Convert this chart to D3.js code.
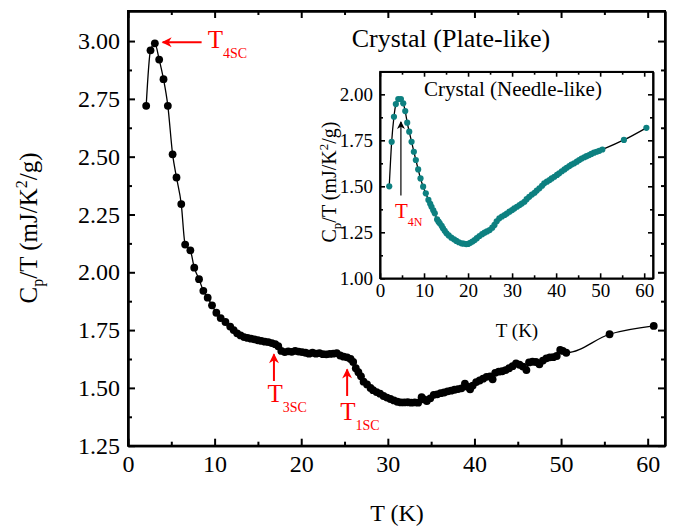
<!DOCTYPE html>
<html><head><meta charset="utf-8">
<script src="https://cdn.jsdelivr.net/npm/d3@7"></script>
<style>
html,body{margin:0;padding:0;background:#fff;}
svg{display:block;font-family:"Liberation Serif","Times New Roman",serif;}
</style></head><body>
<script>
// ---- main data: Crystal (Plate-like) ----
const mainT = [2.1,2.6,3.1,3.6,4.1,4.6,5.15,5.6,6.15,6.6,7.2,7.65,8.2,8.7,9.2,9.7,10.2,10.7,11.25,11.8,12.2,12.6,13.0,13.4,13.8,14.2,14.6,15.0,15.4,15.8,16.2,16.6,17.0,17.35,17.7,18.1,18.5,18.9,19.3,19.7,20.1,20.5,20.9,21.3,21.7,22.1,22.5,22.9,23.3,23.7,24.1,24.5,24.9,25.3,25.7,26.0,26.3,26.6,26.9,27.2,27.6,28.0,28.3,28.7,29.1,29.5,29.9,30.3,30.7,31.1,31.5,31.9,32.3,32.7,33.1,33.5,33.9,34.2,34.5,34.9,35.3,35.7,36.1,36.5,36.9,37.3,37.7,38.1,38.5,38.9,39.2,39.5,39.8,40.2,40.6,41.0,41.4,41.8,42.1,42.4,42.8,43.2,43.6,44.0,44.4,44.8,45.2,45.6,46.0,46.3,46.7,47.1,47.5,47.9,48.3,48.7,49.1,49.5,49.9,50.2,50.6,55.6,60.7];
const mainC = [2.72,2.96,2.99,2.92,2.835,2.72,2.51,2.41,2.295,2.12,2.095,2.02,1.97,1.92,1.89,1.857,1.825,1.802,1.785,1.765,1.75,1.736,1.727,1.72,1.716,1.713,1.71,1.706,1.703,1.70,1.698,1.694,1.689,1.68,1.66,1.655,1.658,1.656,1.66,1.657,1.655,1.652,1.648,1.652,1.648,1.65,1.646,1.645,1.647,1.648,1.65,1.64,1.635,1.632,1.625,1.612,1.585,1.568,1.55,1.527,1.515,1.5,1.49,1.482,1.475,1.465,1.458,1.452,1.446,1.44,1.437,1.437,1.438,1.436,1.437,1.436,1.46,1.45,1.443,1.455,1.47,1.472,1.477,1.48,1.485,1.488,1.492,1.495,1.498,1.518,1.505,1.494,1.51,1.525,1.532,1.54,1.548,1.55,1.537,1.565,1.57,1.572,1.577,1.585,1.594,1.606,1.6,1.592,1.577,1.61,1.613,1.612,1.602,1.618,1.628,1.632,1.633,1.638,1.664,1.66,1.652,1.732,1.768];

// ---- inset data: Crystal (Needle-like) ----
const insetT = [2.1,2.65,3.17,3.6,4.15,4.75,5.28,5.73,6.18,6.64,7.17,7.69,8.14,8.67,9.2,9.8,10.4,11.0,11.4,11.7,12.1,12.44,12.97,13.3,13.57,14.0,14.3,14.7,15.1,15.6,16.2,16.8,17.35,17.9,18.5,19.0,19.6,20.0,20.5,21.0,21.5,22.0,22.6,23.2,23.75,24.3,24.9,25.5,26.0,26.5,27.1,27.7,28.3,28.8,29.4,30.0,30.5,31.1,31.7,32.2,32.8,33.3,33.9,34.5,35.1,35.6,36.2,36.8,37.3,37.9,38.5,39.0,39.6,40.2,40.7,41.3,41.9,42.4,43.0,43.5,44.1,44.7,45.25,45.8,46.4,46.9,47.5,48.0,48.6,49.2,49.8,50.5,55.4,60.5];
const insetC = [1.50,1.742,1.878,1.947,1.974,1.974,1.951,1.909,1.846,1.797,1.742,1.688,1.643,1.592,1.543,1.498,1.462,1.426,1.405,1.389,1.37,1.353,1.32,1.308,1.299,1.285,1.272,1.258,1.245,1.233,1.221,1.212,1.203,1.196,1.19,1.188,1.186,1.187,1.193,1.2,1.208,1.218,1.23,1.24,1.248,1.255,1.262,1.275,1.29,1.31,1.326,1.336,1.344,1.352,1.362,1.371,1.38,1.389,1.398,1.406,1.416,1.43,1.443,1.455,1.465,1.477,1.489,1.503,1.516,1.525,1.534,1.543,1.552,1.562,1.571,1.582,1.592,1.601,1.61,1.618,1.625,1.634,1.643,1.651,1.658,1.664,1.67,1.676,1.683,1.688,1.693,1.70,1.752,1.818];

// ---- ticks ----
const mainXTicks = [0,10,20,30,40,50,60];
const mainXMinor = [5,15,25,35,45,55];
const mainYTicks = [1.25,1.50,1.75,2.00,2.25,2.50,2.75,3.00];
const mainYMinor = [1.375,1.625,1.875,2.125,2.375,2.625,2.875];
const insetXTicks = [0,10,20,30,40,50,60];
const insetXMinor = [5,15,25,35,45,55];
const insetYTicks = [1.00,1.25,1.50,1.75,2.00];
const insetYMinor = [1.125,1.375,1.625,1.875];

const W = 685, H = 528;
const svg = d3.select("body").append("svg").attr("width", W).attr("height", H);

const mainX = d3.scaleLinear().domain([0, 62]).range([128, 665]);
const mainY = d3.scaleLinear().domain([1.25, 3.13]).range([445.7, 11]);

function drawAxes(g, x, y, o) {
  const [x0, x1] = x.range(), [y0, y1] = y.range();
  const fmtY = d3.format(".2f");
  g.append("g").attr("transform", `translate(0,${y0})`)
    .call(d3.axisBottom(x).tickValues(o.xt).tickSizeInner(-o.maj).tickSizeOuter(0).tickPadding(o.xpad).tickFormat(d3.format("d")));
  g.append("g").attr("transform", `translate(0,${y0})`)
    .call(d3.axisBottom(x).tickValues(o.xm).tickSizeInner(-o.min).tickSizeOuter(0).tickFormat(""));
  g.append("g").attr("transform", `translate(0,${y1})`)
    .call(d3.axisTop(x).tickValues(o.xt).tickSizeInner(-o.maj).tickSizeOuter(0).tickFormat(""));
  g.append("g").attr("transform", `translate(0,${y1})`)
    .call(d3.axisTop(x).tickValues(o.xm).tickSizeInner(-o.min).tickSizeOuter(0).tickFormat(""));
  g.append("g").attr("transform", `translate(${x0},0)`)
    .call(d3.axisLeft(y).tickValues(o.yt).tickSizeInner(-o.maj).tickSizeOuter(0).tickPadding(o.ypad).tickFormat(fmtY));
  g.append("g").attr("transform", `translate(${x0},0)`)
    .call(d3.axisLeft(y).tickValues(o.ym).tickSizeInner(-o.min).tickSizeOuter(0).tickFormat(""));
  g.append("g").attr("transform", `translate(${x1},0)`)
    .call(d3.axisRight(y).tickValues(o.yt).tickSizeInner(-o.maj).tickSizeOuter(0).tickFormat(""));
  g.append("g").attr("transform", `translate(${x1},0)`)
    .call(d3.axisRight(y).tickValues(o.ym).tickSizeInner(-o.min).tickSizeOuter(0).tickFormat(""));
  g.selectAll("g").attr("font-family", "Liberation Serif");
  g.selectAll(".domain").attr("stroke", "#000").attr("stroke-width", o.sw);
  g.selectAll(".tick line").attr("stroke", "#000").attr("stroke-width", o.sw);
  g.selectAll(".tick text").attr("font-family", "Liberation Serif").attr("font-size", o.fs).attr("fill", "#000");
  g.append("rect").attr("x", x0).attr("y", y1).attr("width", x1 - x0).attr("height", y0 - y1)
    .attr("fill", "none").attr("stroke", "#000").attr("stroke-width", o.sw);
}

// ---- main plot ----
const gm = svg.append("g");
drawAxes(gm, mainX, mainY, {xt: mainXTicks, xm: mainXMinor, yt: mainYTicks, ym: mainYMinor, maj: 7, min: 4, xpad: 9, ypad: 8, sw: 2, fs: 24});

const mainData = mainT.map((t, i) => [t, mainC[i]]);
gm.append("path").datum(mainData)
  .attr("d", d3.line().x(d => mainX(d[0])).y(d => mainY(d[1])).curve(d3.curveMonotoneX))
  .attr("fill", "none").attr("stroke", "#000").attr("stroke-width", 1.3);
gm.selectAll("circle.m").data(mainData).enter().append("circle")
  .attr("cx", d => mainX(d[0])).attr("cy", d => mainY(d[1])).attr("r", 3.9).attr("fill", "#000");

svg.append("text").attr("x", 451).attr("y", 47).attr("text-anchor", "middle")
  .attr("font-size", 26).attr("fill", "#000").text("Crystal (Plate-like)");
svg.append("text").attr("x", 397).attr("y", 521).attr("text-anchor", "middle")
  .attr("font-size", 24).attr("fill", "#000").text("T (K)");
{
  const t = svg.append("text").attr("transform", "translate(37,228) rotate(-90)")
    .attr("text-anchor", "middle").attr("font-size", 25).attr("fill", "#000");
  t.append("tspan").text("C");
  t.append("tspan").attr("font-size", 16).attr("dy", 6).text("p");
  t.append("tspan").attr("dy", -6).text("/T (mJ/K");
  t.append("tspan").attr("font-size", 16).attr("dy", -10).text("2");
  t.append("tspan").attr("dy", 10).text("/g)");
}

const defs = svg.append("defs");
function marker(id, color, w, h) {
  defs.append("marker").attr("id", id).attr("viewBox", "0 0 10 10").attr("refX", 9).attr("refY", 5)
    .attr("markerWidth", w).attr("markerHeight", h).attr("orient", "auto").attr("markerUnits", "userSpaceOnUse")
    .append("path").attr("d", "M0,0 L10,5 L0,10 L3,5 Z").attr("fill", color);
}
marker("ar", "#ff0000", 12, 10);
marker("ak", "#000", 9, 8);

function arrow(x1, y1, x2, y2, color, m, sw) {
  svg.append("line").attr("x1", x1).attr("y1", y1).attr("x2", x2).attr("y2", y2)
    .attr("stroke", color).attr("stroke-width", sw).attr("marker-end", `url(#${m})`);
}
function label(x, y, main, sub, fs, sfs, color) {
  const t = svg.append("text").attr("x", x).attr("y", y).attr("font-size", fs).attr("fill", color);
  t.append("tspan").text(main);
  t.append("tspan").attr("font-size", sfs).attr("dy", fs * 0.4).text(sub);
}
arrow(mainX(8.5), mainY(2.995), mainX(4.0), mainY(2.995), "#ff0000", "ar", 2);
label(mainX(9.2), mainY(2.969), "T", "4SC", 25, 14, "#ff0000");
arrow(mainX(16.85), mainY(1.53), mainX(16.85), mainY(1.645), "#ff0000", "ar", 2);
label(mainX(16.1), mainY(1.44), "T", "3SC", 25, 14, "#ff0000");
arrow(mainX(25.3), mainY(1.465), mainX(25.3), mainY(1.58), "#ff0000", "ar", 2);
label(mainX(24.5), mainY(1.36), "T", "1SC", 25, 14, "#ff0000");

// ---- inset ----
const insX = d3.scaleLinear().domain([0, 62]).range([380, 653]);
const insY = d3.scaleLinear().domain([1.0, 2.123]).range([278.3, 71.7]);
const gi = svg.append("g");
gi.append("rect").attr("x", 380).attr("y", 71.7).attr("width", 273).attr("height", 206.6).attr("fill", "#fff");
drawAxes(gi, insX, insY, {xt: insetXTicks, xm: insetXMinor, yt: insetYTicks, ym: insetYMinor, maj: 5, min: 3, xpad: 5, ypad: 7, sw: 1.6, fs: 19});

const insData = insetT.map((t, i) => [t, insetC[i]]);
gi.append("path").datum(insData)
  .attr("d", d3.line().x(d => insX(d[0])).y(d => insY(d[1])).curve(d3.curveMonotoneX))
  .attr("fill", "none").attr("stroke", "#000").attr("stroke-width", 1.3);
gi.selectAll("circle.i").data(insData).enter().append("circle")
  .attr("cx", d => insX(d[0])).attr("cy", d => insY(d[1])).attr("r", 3.1).attr("fill", "#0d8080");

svg.append("text").attr("x", 513).attr("y", 96).attr("text-anchor", "middle")
  .attr("font-size", 21).attr("fill", "#000").text("Crystal (Needle-like)");
svg.append("text").attr("x", 517).attr("y", 337).attr("text-anchor", "middle")
  .attr("font-size", 19).attr("fill", "#000").text("T (K)");
{
  const t = svg.append("text").attr("transform", "translate(336,182) rotate(-90)")
    .attr("text-anchor", "middle").attr("font-size", 20).attr("fill", "#000");
  t.append("tspan").text("C");
  t.append("tspan").attr("font-size", 13).attr("dy", 5).text("p");
  t.append("tspan").attr("dy", -5).text("/T (mJ/K");
  t.append("tspan").attr("font-size", 13).attr("dy", -8).text("2");
  t.append("tspan").attr("dy", 8).text("/g)");
}
arrow(insX(4.75), insY(1.45), insX(4.75), insY(1.85), "#000", "ak", 1.2);
label(insX(3.4), insY(1.33), "T", "4N", 21, 12, "#ff0000");
</script>
</body></html>
